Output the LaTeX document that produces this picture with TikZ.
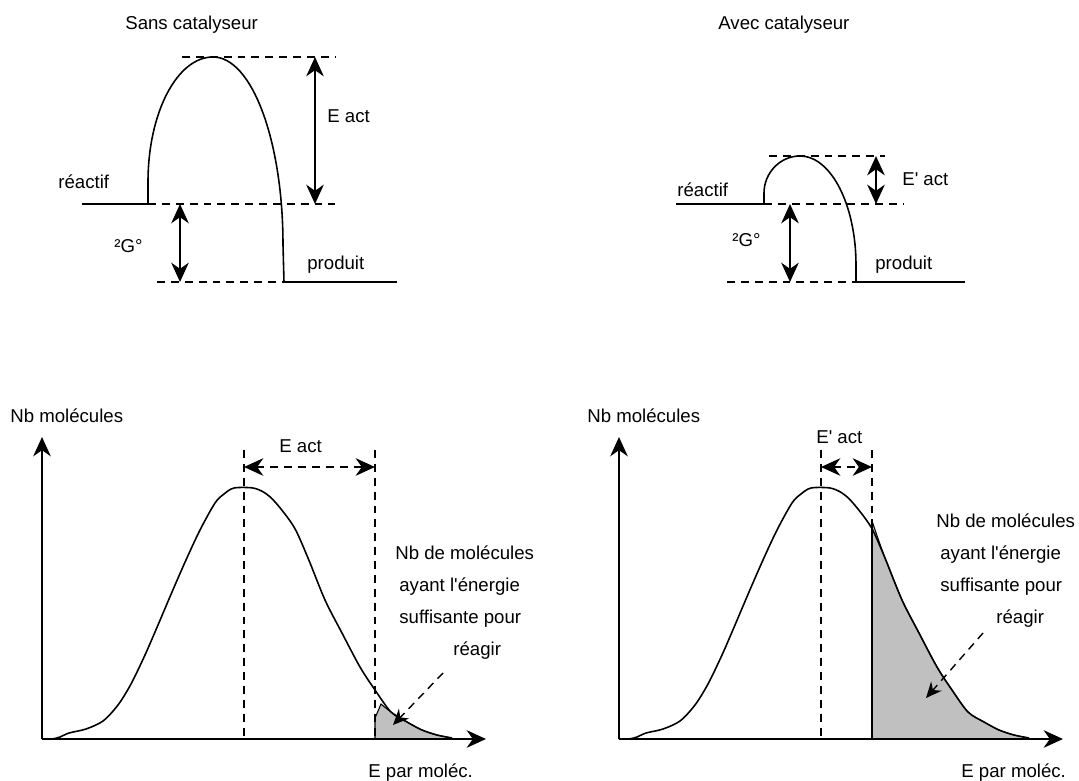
\documentclass[tikz,border=0pt]{standalone}
\usepackage{fontspec}
\setmainfont{Liberation Sans}
\usetikzlibrary{arrows.meta}

\newcommand\lblfont{\fontsize{10.6}{13}\selectfont}
\definecolor{areagray}{HTML}{C0C0C0}

\begin{document}
\begin{tikzpicture}[
x=0.02cm, y=-0.02cm,
lbl/.style={font=\lblfont, inner sep=0pt, anchor=base west},
curve/.style={line width=0.9pt, line join=round},
guide/.style={dash pattern=on 4.5pt off 3.4pt, line width=0.7pt},
dbl/.style={{Stealth[length=11pt,width=10pt,inset=3.5pt]}-{Stealth[length=11pt,width=10pt,inset=3.5pt]}, line width=1pt},
axis/.style={-{Stealth[length=11pt,width=10pt,inset=3.5pt]}, line width=1.1pt},
hint/.style={-{Stealth[length=9pt,width=8pt,inset=3pt]}, dash pattern=on 4.5pt off 3.4pt, line width=0.8pt} ]

\useasboundingbox (0,0) rectangle (1079,781);

% energy profiles
\node[lbl](sansTitle) at (125,30) {Sans catalyseur};

\node[lbl](avecTitle) at (718,30) {Avec catalyseur};

\coordinate (lTopA) at (182,57);
\coordinate (lTopB) at (335,57);
\coordinate (lReA) at (82,204);
\coordinate (lFootA) at (148,204);
\coordinate (lReB) at (335,204);
\coordinate (lBotA) at (157,282);
\coordinate (lFootB) at (284,282);
\coordinate (lBotB) at (397,282);

\draw[guide] (lTopA) -- (lTopB);
\draw[guide] (lFootA) -- (lReB);
\draw[guide] (lBotA) -- (lFootB);
\draw[curve] (lReA) -- (lFootA);
\draw[curve] (lFootB) -- (lBotB);
\draw[curve] (lFootA) -- (148,182) .. controls (148,113) and (177,57) .. (213,57) .. controls (252,57) and (283,141) .. (283,245) -- (lFootB);

\draw[dbl] (315,57) -- (315,204);
\draw[dbl] (180,204) -- (180,282);

\node[lbl](lReac) at (58,188) {réactif};
\node[lbl](lEact) at (327,122) {E act};
\node[lbl](lDG) at (114,252) {²G°};
\node[lbl](lProd) at (307,269) {produit};

\coordinate (rTopA) at (769,156);
\coordinate (rTopB) at (885,156);
\coordinate (rReA) at (676,204);
\coordinate (rFootA) at (764,204);
\coordinate (rReB) at (903,204);
\coordinate (rBotA) at (727,282);
\coordinate (rFootB) at (856,282);
\coordinate (rBotB) at (965,282);

\draw[guide] (rTopA) -- (rTopB);
\draw[guide] (rFootA) -- (rReB);
\draw[guide] (rBotA) -- (rFootB);
\draw[curve] (rReA) -- (rFootA);
\draw[curve] (rFootB) -- (rBotB);
\draw[curve] (rFootA) -- (764,193) .. controls (764,173) and (780,156) .. (800,156) .. controls (831,156) and (856,205) .. (856,265) -- (rFootB);

\draw[dbl] (876,156) -- (876,204);
\draw[dbl] (790,204) -- (790,282);

\node[lbl](rReac) at (677,196) {réactif};
\node[lbl](rEact) at (902,185) {E\textquotesingle{} act};
\node[lbl](rDG) at (732,246) {²G°};
\node[lbl](rProd) at (875,269) {produit};

% distributions
\coordinate (aO) at (42,739);
\coordinate (aY) at (42,437);
\coordinate (aX) at (486,739);

\fill[areagray] (375,739) -- (375,718) -- plot[smooth, tension=0.5] coordinates {(381,704) (391,712) (407,722) (422,730) (437,735) (452,738)} -- cycle;
\draw[line width=0.6pt] (375,739) -- (375,718) -- plot[smooth, tension=0.5] coordinates {(381,704) (391,712) (407,722) (422,730) (437,735) (452,738)};

\draw[curve] plot[smooth, tension=0.5] coordinates {(42,739) (52,739) (60,737) (69,733) (86,729) (103,721) (118,705) (131,684) (145,655) (158,625) (172,592) (186,560) (200,530) (215,503) (224,494) (234,488) (253,488) (265,493) (276,503) (294,527) (308,558) (325,600) (342,633) (360,667) (375,690) (391,712) (407,722) (422,730) (437,735) (452,738)};

\draw[axis] (aO) -- (aY);
\draw[axis] (aO) -- (aX);

\draw[guide] (244,450) -- (244,739);
\draw[guide] (375,450) -- (375,739);
\draw[dbl, dash pattern=on 4.5pt off 3.4pt] (244,467) -- (375,467);

\draw[hint] (443,673) -- (393,725);

\node[lbl](aYlab) at (10,422) {Nb molécules};
\node[lbl](aXlab) at (368,777) {E par moléc.};
\node[lbl](aEact) at (279,452) {E act};
\node[lbl](aNote1) at (395,559) {Nb de molécules};
\node[lbl](aNote2) at (399,591) {ayant l\textquotesingle énergie};
\node[lbl](aNote3) at (399,623) {suffisante pour};
\node[lbl](aNote4) at (453,655) {réagir};

\coordinate (bO) at (619,739);
\coordinate (bY) at (619,437);
\coordinate (bX) at (1063,739);

\begin{scope}[shift={(577,0)}]
\fill[areagray] (295,739) -- plot[smooth, tension=0.5] coordinates {(295,521) (308,558) (325,600) (342,633) (360,667) (375,690) (391,712) (407,722) (422,730) (437,735) (452,738)} -- cycle;
\draw[line width=0.6pt] plot[smooth, tension=0.5] coordinates {(295,521) (308,558) (325,600) (342,633) (360,667) (375,690) (391,712) (407,722) (422,730) (437,735) (452,738)};

\draw[curve] plot[smooth, tension=0.5] coordinates {(42,739) (52,739) (60,737) (69,733) (86,729) (103,721) (118,705) (131,684) (145,655) (158,625) (172,592) (186,560) (200,530) (215,503) (224,494) (234,488) (253,488) (265,493) (276,503) (294,527) (308,558) (325,600) (342,633) (360,667) (375,690) (391,712) (407,722) (422,730) (437,735) (452,738)};
\end{scope}

\draw[curve] (872,521) -- (872,739);
\draw[axis] (bO) -- (bY);
\draw[axis] (bO) -- (bX);

\draw[guide] (821,450) -- (821,739);
\draw[guide] (872,450) -- (872,521);
\draw[dbl, dash pattern=on 4.5pt off 3.4pt] (821,467) -- (872,467);

\draw[hint] (983,633) -- (926,698);

\node[lbl](bYlab) at (587,422) {Nb molécules};
\node[lbl](bXlab) at (961,777) {E par moléc.};
\node[lbl](bEact) at (816,443) {E\textquotesingle{} act};
\node[lbl](bNote1) at (936,527) {Nb de molécules};
\node[lbl](bNote2) at (940,559) {ayant l\textquotesingle énergie};
\node[lbl](bNote3) at (940,591) {suffisante pour};
\node[lbl](bNote4) at (996,623) {réagir};
\end{tikzpicture}
\end{document}
